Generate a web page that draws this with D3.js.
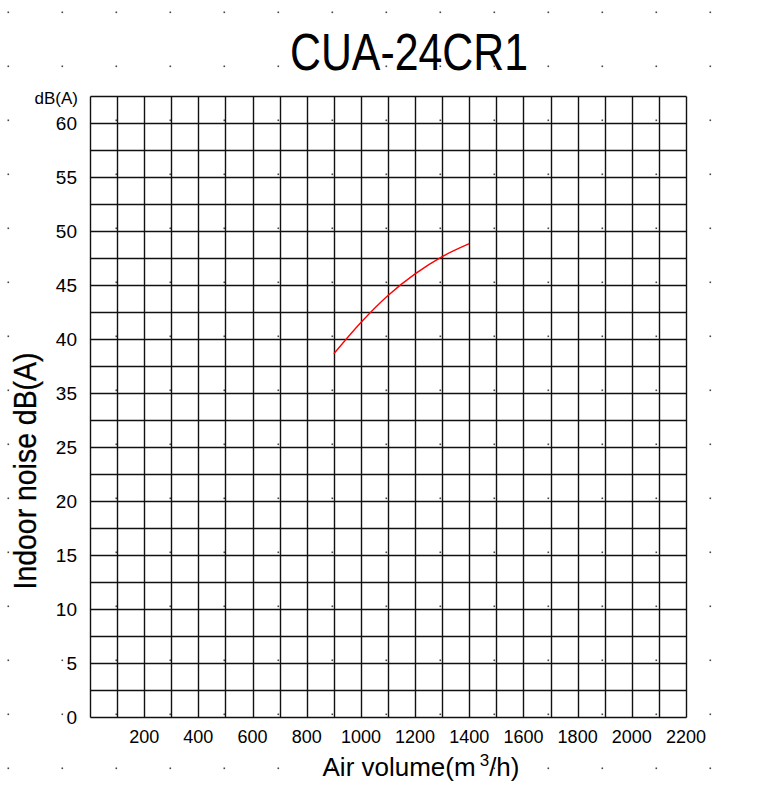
<!DOCTYPE html>
<html>
<head>
<meta charset="utf-8">
<script src="https://cdn.jsdelivr.net/npm/d3@7"></script>
<style>
  html, body { margin: 0; padding: 0; background: #fff; }
  svg { display: block; }
  text { font-family: "Liberation Sans", Arial, sans-serif; fill: #000; }
</style>
</head>
<body>
<div id="chart"></div>
<script>
// ---- data ----
const chartTitle = "CUA-24CR1";
const airVolume = [900, 1000, 1100, 1200, 1300, 1400];
const indoorNoise = [38.6, 41.5, 44.0, 46.0, 47.6, 48.8];
const xTickValues = [200, 400, 600, 800, 1000, 1200, 1400, 1600, 1800, 2000, 2200];
const xTickLabels = ["200", "400", "600", "800", "1000", "1200", "1400", "1600", "1800", "2000", "2200"];
const yTickValues = [60, 55, 50, 45, 40, 35, 30, 25, 20, 15, 10, 5];
const yTickLabels = ["60", "55", "50", "45", "40", "35", "25", "20", "15", "10", "5", "0"];
const xDomain = [0, 2200];
const yDomain = [5, 62.5];
const xGridStep = 100;
const yGridStep = 2.5;

// ---- layout ----
const W = 761, H = 789;
const plot = { left: 90, right: 686, top: 95.7, bottom: 716.7 };

const svg = d3.select("#chart").append("svg").attr("width", W).attr("height", H);
svg.append("rect").attr("width", W).attr("height", H).attr("fill", "#fff");

// decorative background dot grid
const dots = svg.append("g").attr("fill", "#444");
for (let i = 0; i < 14; i++) {
  for (let j = 0; j < 15; j++) {
    dots.append("rect").attr("x", 7.5 + i * 54).attr("y", 11.5 + j * 54).attr("width", 1.6).attr("height", 1.6);
  }
}

const x = d3.scaleLinear().domain(xDomain).range([plot.left, plot.right]);
const y = d3.scaleLinear().domain(yDomain).range([plot.bottom, plot.top]);
const px = v => Math.round(v) + 0.5;

// grid
const grid = svg.append("g").attr("stroke", "#111").attr("stroke-width", 1.4);
d3.range(xDomain[0], xDomain[1] + 1, xGridStep).forEach(v => {
  grid.append("line").attr("x1", px(x(v))).attr("x2", px(x(v))).attr("y1", px(plot.top)).attr("y2", px(plot.bottom));
});
d3.range(yDomain[0], yDomain[1] + 0.01, yGridStep).forEach(v => {
  grid.append("line").attr("x1", px(plot.left)).attr("x2", px(plot.right)).attr("y1", px(y(v))).attr("y2", px(y(v)));
});

// x tick labels
svg.append("g").selectAll("text").data(xTickValues).join("text")
  .attr("x", d => x(d)).attr("y", 743)
  .attr("text-anchor", "middle").attr("font-size", 18)
  .text((d, i) => xTickLabels[i]);

// y tick labels
svg.append("g").selectAll("text").data(yTickValues).join("text")
  .attr("x", 77).attr("y", d => y(d) + 7)
  .attr("text-anchor", "end").attr("font-size", 19)
  .text((d, i) => yTickLabels[i]);

// unit label
svg.append("text").attr("x", 78).attr("y", 104).attr("text-anchor", "end")
  .attr("font-size", 17).text("dB(A)");

// curve
const line = d3.line().x((d, i) => x(airVolume[i])).y(d => y(d)).curve(d3.curveMonotoneX);
svg.append("path").datum(indoorNoise).attr("d", line)
  .attr("fill", "none").attr("stroke", "#ff0000").attr("stroke-width", 1.4);

// title
svg.append("text").attr("x", 409).attr("y", 70).attr("text-anchor", "middle")
  .attr("font-family", "'Liberation Sans Narrow', 'Liberation Sans', sans-serif")
  .attr("font-size", 51).attr("textLength", 238).attr("lengthAdjust", "spacingAndGlyphs")
  .text(chartTitle);

// y axis title
svg.append("text").attr("transform", "translate(36,471) rotate(-90)")
  .attr("text-anchor", "middle").attr("font-size", 31)
  .attr("textLength", 237).attr("lengthAdjust", "spacingAndGlyphs")
  .attr("stroke", "#000").attr("stroke-width", 0.3)
  .text("Indoor noise dB(A)");

// x axis title
const xt = svg.append("text").attr("x", 421).attr("y", 776).attr("text-anchor", "middle").attr("font-size", 26);
xt.append("tspan").text("Air volume(m");
xt.append("tspan").attr("dx", 4).attr("font-size", 17).attr("dy", -10).text("3");
xt.append("tspan").attr("dy", 10).text("/h)");
</script>
</body>
</html>
